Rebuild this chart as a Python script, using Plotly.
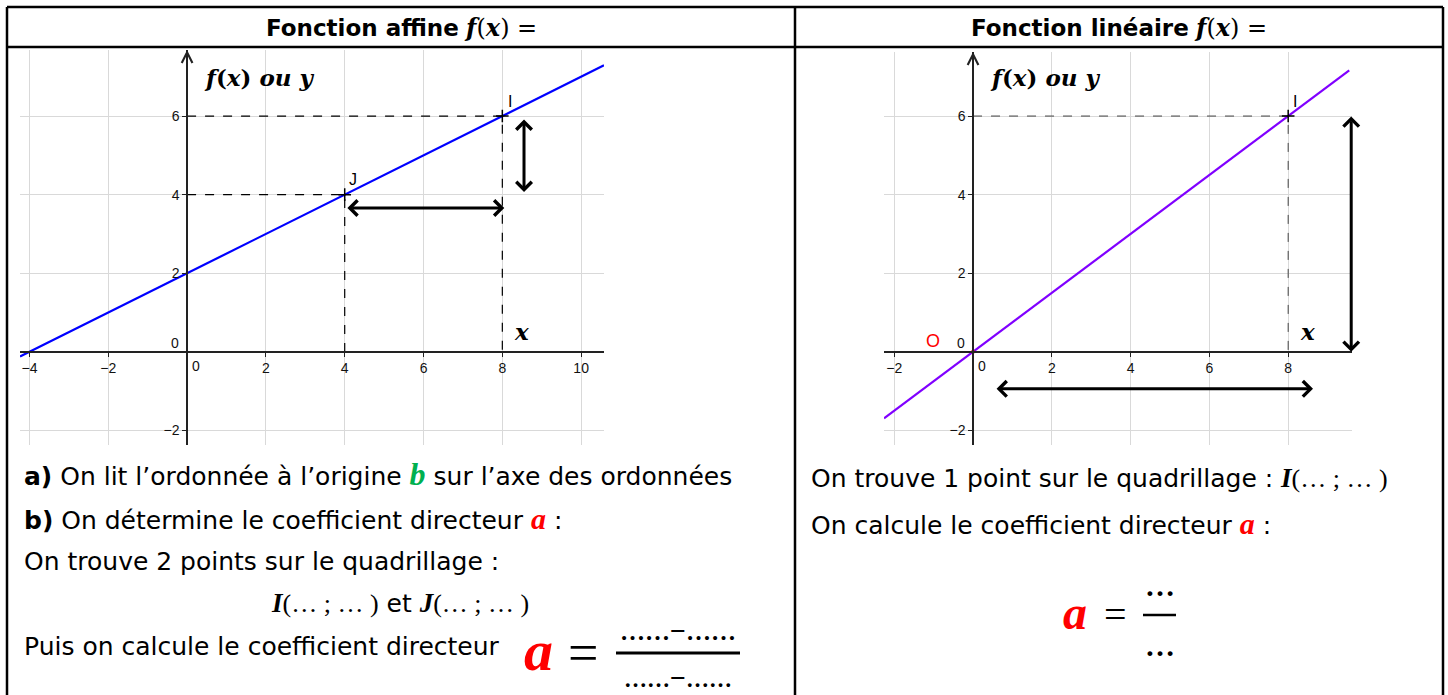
import plotly.graph_objects as go

W, H = 1448, 695

# graphique 1 : fonction affine
affine_x = [-4.24, 10.58]
affine_y = [-0.12, 7.29]
pts_aff_x = [8, 4]
pts_aff_y = [6, 4]
pts_aff_nom = ["I", "J"]

# graphique 2 : fonction lineaire
lin_x = [-2.26, 9.55]
lin_y = [-1.69, 7.16]
pts_lin_x = [8]
pts_lin_y = [6]
pts_lin_nom = ["I"]

ticks_x_aff = [-4, -2, 2, 4, 6, 8, 10]
ticks_x_lin = [-2, 2, 4, 6, 8]
ticks_y = [-2, 2, 4, 6]

# fleches doubles (debut, fin)
fleches_aff = [((4.03, 3.66), (8.05, 3.66)), ((8.55, 5.95), (8.55, 4.07))]
fleches_lin = [((0.56, -0.94), (8.63, -0.94)), ((9.6, 6.03), (9.6, 0.0))]

rng_aff_x = [-4.24, 10.58]
rng_aff_y = [-2.37, 7.68]
rng_lin_x = [-2.26, 9.62]
rng_lin_y = [-2.37, 7.63]

dom_aff_x = [20 / W, 604 / W]
dom_lin_x = [884 / W, 1352 / W]
dom_aff_y = [1 - 445 / H, 1 - 50 / H]
dom_lin_y = [1 - 445 / H, 1 - 52 / H]

SANS = "DejaVu Sans"
SERIF = "Liberation Serif"
LATEX = "DejaVu Serif"
GRILLE = "#d9d9d9"


def px(x):
    return x / W


def py(y):
    return 1 - y / H


def pos_zero(rng, dom):
    return dom[0] + (0 - rng[0]) / (rng[1] - rng[0]) * (dom[1] - dom[0])


fig = go.Figure()

# droites
fig.add_trace(go.Scatter(x=affine_x, y=affine_y, mode="lines",
                         line=dict(color="#0000ff", width=2.2),
                         xaxis="x", yaxis="y", hoverinfo="skip"))
fig.add_trace(go.Scatter(x=lin_x, y=lin_y, mode="lines",
                         line=dict(color="#8000ff", width=2.2),
                         xaxis="x2", yaxis="y2", hoverinfo="skip"))

# pointilles vers les axes
for xp, yp in zip(pts_aff_x, pts_aff_y):
    fig.add_trace(go.Scatter(x=[0, xp, xp], y=[yp, yp, 0], mode="lines",
                             line=dict(color="black", width=1.2, dash="dash"),
                             xaxis="x", yaxis="y", hoverinfo="skip"))
for xp, yp in zip(pts_lin_x, pts_lin_y):
    fig.add_trace(go.Scatter(x=[0, xp, xp], y=[yp, yp, 0], mode="lines",
                             line=dict(color="#444", width=1, dash="dash"),
                             xaxis="x2", yaxis="y2", hoverinfo="skip"))

# points
fig.add_trace(go.Scatter(x=pts_aff_x, y=pts_aff_y, mode="markers",
                         marker=dict(symbol="cross-thin", size=9,
                                     line=dict(color="black", width=1.5)),
                         xaxis="x", yaxis="y", hoverinfo="skip"))
fig.add_trace(go.Scatter(x=pts_lin_x, y=pts_lin_y, mode="markers",
                         marker=dict(symbol="cross-thin", size=9,
                                     line=dict(color="black", width=1.5)),
                         xaxis="x2", yaxis="y2", hoverinfo="skip"))
fig.add_trace(go.Scatter(x=[0], y=[0], mode="markers",
                         marker=dict(color="red", size=4),
                         xaxis="x2", yaxis="y2", hoverinfo="skip"))

tickfont = dict(family="Liberation Sans", size=14, color="#111")


def axe(dom, rng, vals, autre_dom, autre_rng):
    return dict(domain=dom, range=rng, tickvals=vals, showgrid=True,
                gridcolor=GRILLE, gridwidth=1, zeroline=False,
                showline=True, linecolor="#222", linewidth=1.5,
                ticks="outside", ticklen=4, tickcolor="#222",
                tickfont=tickfont, anchor="free",
                position=pos_zero(autre_rng, autre_dom), fixedrange=True)


fig.update_layout(
    width=W, height=H, margin=dict(l=0, r=0, t=0, b=0),
    paper_bgcolor="white", plot_bgcolor="white", showlegend=False,
    xaxis=axe(dom_aff_x, rng_aff_x, ticks_x_aff, dom_aff_y, rng_aff_y),
    yaxis=axe(dom_aff_y, rng_aff_y, ticks_y, dom_aff_x, rng_aff_x),
    xaxis2=axe(dom_lin_x, rng_lin_x, ticks_x_lin, dom_lin_y, rng_lin_y),
    yaxis2=axe(dom_lin_y, rng_lin_y, ticks_y, dom_lin_x, rng_lin_x),
)

ann = []

# fleches noires
for (deb, fin), (xr, yr) in [(f, ("x", "y")) for f in fleches_aff] + \
        [(f, ("x2", "y2")) for f in fleches_lin]:
    ann.append(dict(x=fin[0], y=fin[1], ax=deb[0], ay=deb[1],
                    xref=xr, yref=yr, axref=xr, ayref=yr, text="",
                    showarrow=True, arrowside="end+start", arrowhead=4,
                    startarrowhead=4, arrowwidth=3, arrowsize=1,
                    startarrowsize=1, arrowcolor="black",
                    standoff=0, startstandoff=0))

# fleches des axes des ordonnees
for xr, yr, rng in [("x", "y", rng_aff_y), ("x2", "y2", rng_lin_y)]:
    ann.append(dict(x=0, y=rng[1], ax=0, ay=rng[1] - 0.4, xref=xr, yref=yr,
                    axref=xr, ayref=yr, text="", showarrow=True,
                    arrowhead=5, arrowwidth=1.5, arrowsize=1.4,
                    arrowcolor="#222", standoff=0))

# zeros
for xr, yr in [("x", "y"), ("x2", "y2")]:
    ann.append(dict(x=0, y=0, xref=xr, yref=yr, text="0", showarrow=False,
                    xshift=9, yshift=-14, font=tickfont))
    ann.append(dict(x=0, y=0, xref=xr, yref=yr, text="0", showarrow=False,
                    xshift=-12, yshift=9, font=tickfont))

# noms des points
for xp, yp, nom in zip(pts_aff_x, pts_aff_y, pts_aff_nom):
    ann.append(dict(x=xp, y=yp, xref="x", yref="y", text=nom,
                    showarrow=False, xshift=8, yshift=15,
                    font=dict(family="Liberation Sans", size=16, color="black")))
for xp, yp, nom in zip(pts_lin_x, pts_lin_y, pts_lin_nom):
    ann.append(dict(x=xp, y=yp, xref="x2", yref="y2", text=nom,
                    showarrow=False, xshift=7, yshift=15,
                    font=dict(family="Liberation Sans", size=16, color="black")))
ann.append(dict(x=0, y=0, xref="x2", yref="y2", text="O", showarrow=False,
                xshift=-40, yshift=11,
                font=dict(family="Liberation Sans", size=18, color="red")))

# titres des axes
fmath = dict(family=LATEX, size=23, color="black")
for xr, yr in [("x", "y"), ("x2", "y2")]:
    ann.append(dict(x=0.38, y=6.98, xref=xr, yref=yr, xanchor="left",
                    yanchor="middle",
                    text="<b><i>f</i>(<i>x</i>) <i>ou y</i></b>",
                    showarrow=False, font=fmath))
    ann.append(dict(x=8.48, y=0.52, xref=xr, yref=yr,
                    text="<b><i>x</i></b>", showarrow=False, font=fmath))


def note(x, y, texte, xa="center", **kw):
    d = dict(x=px(x), y=py(y), xref="paper", yref="paper", xanchor=xa,
             yanchor="middle", text=texte, showarrow=False)
    d.update(kw)
    ann.append(d)


# en-tetes du tableau
fhead = dict(family=SANS, size=23, color="black")
m = ("<span style='font-family:%s;font-size:24px'><b><i>f</i></b>(<b><i>x</i></b>) =</span>"
     % LATEX)
note(401, 27, "<b>Fonction affine</b> " + m, font=fhead)
note(1119, 27, "<b>Fonction linéaire</b> " + m, font=fhead)

ftxt = dict(family=SANS, size=25, color="black")


def var(lettre, couleur="black", taille=26):
    return ("<span style='font-family:%s;color:%s;font-size:%dpx'><b><i>%s</i></b></span>"
            % (SERIF, couleur, taille, lettre))


def pt(lettre):
    return (var(lettre, taille=27)
            + "<span style='font-family:%s;font-size:26px'>(… ; … )</span>" % SERIF)


note(22, 474, "<b>a)</b> On lit l’ordonnée à l’origine " + var("b", "#00b050", 32)
     + " sur l’axe des ordonnées", xa="left", font=ftxt)
note(22, 518, "<b>b)</b> On détermine le coefficient directeur "
     + var("a", "red", 30) + " :", xa="left", font=ftxt)
note(22, 561, "On trouve 2 points sur le quadrillage :", xa="left", font=ftxt)
note(400, 603, pt("I") + " et " + pt("J"), font=ftxt)
note(22, 646, "Puis on calcule le coefficient directeur", xa="left", font=ftxt)
note(809, 478, "On trouve 1 point sur le quadrillage : " + pt("I"), xa="left", font=ftxt)
note(809, 523, "On calcule le coefficient directeur " + var("a", "red", 30) + " :",
     xa="left", font=ftxt)

# formules de a
moins = "<span style='font-size:28px'>−</span>"
note(538, 650, var("a", "red", 58))
note(583, 653, "=", font=dict(family=SERIF, size=54, color="black"))
note(678, 630, "<b>……" + moins + "……</b>",
     font=dict(family=SERIF, size=25, color="black"))
note(678, 677, "<b>……" + moins + "……</b>",
     font=dict(family=SERIF, size=23, color="black"))
note(1075, 612, var("a", "red", 48))
note(1115, 614, "=", font=dict(family=SERIF, size=40, color="black"))
note(1160, 585, "<b>…</b>", font=dict(family=SERIF, size=30, color="black"))
note(1160, 645, "<b>…</b>", font=dict(family=SERIF, size=30, color="black"))

fig.update_layout(annotations=ann)

# cadre du tableau et barres de fraction
formes = []
for x0, y0, x1, y1 in [(7, 7, 1443, 7), (7, 47, 1443, 47), (7, 7, 7, 695),
                       (795, 7, 795, 695), (1443, 7, 1443, 695)]:
    formes.append(dict(type="line", xref="paper", yref="paper",
                       x0=px(x0), y0=py(y0), x1=px(x1), y1=py(y1),
                       line=dict(color="black", width=2.5)))
formes.append(dict(type="line", xref="paper", yref="paper", x0=px(616),
                   y0=py(653), x1=px(740), y1=py(653),
                   line=dict(color="black", width=3)))
formes.append(dict(type="line", xref="paper", yref="paper", x0=px(1143),
                   y0=py(615), x1=px(1176), y1=py(615),
                   line=dict(color="black", width=2.5)))
fig.update_layout(shapes=formes)

fig.write_html("out.html", config={"displayModeBar": False},
               post_script="document.body.style.margin='0';")
